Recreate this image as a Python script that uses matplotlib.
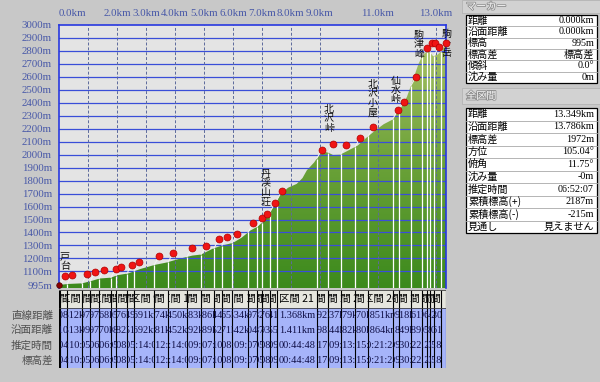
import matplotlib
matplotlib.use('Agg')
import matplotlib.pyplot as plt
import matplotlib.patheffects as pe
import numpy as np
from matplotlib.colors import LinearSegmentedColormap
from matplotlib.patches import Rectangle
from matplotlib.transforms import offset_copy, Bbox, TransformedBbox

plt.rcParams['font.family'] = ['Liberation Serif', 'Noto Sans CJK JP', 'DejaVu Sans']
CJK = ['Noto Sans CJK JP', 'DejaVu Sans']

# elevation profile (distance km, elevation m)
prof_km = [0.0, 0.3, 0.8, 1.1, 1.4, 1.8, 2.0, 2.4, 2.8, 3.3, 3.7, 4.2, 4.6, 4.9, 5.3, 5.6,
           6.0, 6.3, 6.6, 6.85, 7.0, 7.2, 7.4, 7.6, 7.9, 8.2, 8.4, 8.55, 8.8, 9.0, 9.25,
           9.45, 9.7, 10.0, 10.3, 10.6, 10.9, 11.2, 11.5, 11.75, 12.0, 12.2, 12.4, 12.55,
           12.75, 12.9, 13.05, 13.2, 13.3, 13.349]
prof_el = [995, 1003, 1008, 1025, 1045, 1052, 1070, 1085, 1118, 1150, 1168, 1200, 1222, 1230,
           1275, 1298, 1320, 1360, 1415, 1445, 1475, 1530, 1600, 1685, 1745, 1775, 1820, 1880,
           1940, 2005, 2020, 1998, 2000, 2035, 2070, 2130, 2185, 2235, 2270, 2350, 2445, 2570,
           2700, 2770, 2805, 2760, 2770, 2800, 2840, 2967]

# waypoints (km)
wp_km = [0.03, 0.28, 0.79, 1.07, 1.38, 1.79, 1.97, 2.34, 2.59, 3.28, 3.76, 4.41, 4.90, 5.34,
         5.62, 5.97, 6.52, 6.83, 7.00, 7.28, 7.52, 8.89, 9.28, 9.72, 10.21, 10.66, 11.51,
         11.72, 12.14, 12.52, 12.69, 12.79, 12.93, 13.17]

place_idx = [0, 18, 22, 25, 26, 29, 33]
place_names = ['戸台', '丹渓山荘', '北沢峠', '北沢小屋', '仙水峠', '駒津峰', '駒ヶ岳']

# segment table
seg_direct = [0.208, 0.512, 0.297, 0.297, 0.368, 0.205, 0.376, 0.249, 0.691, 0.574, 0.450,
              0.483, 0.386, 0.344, 0.365, 0.534, 0.297, 0.182, 0.276, 0.241, 1.368, 0.392,
              0.437, 0.479, 0.470, 0.851, 0.209, 0.418, 0.361, 0.196, 0.104, 0.142, 0.330]
seg_surface = [0.210, 0.513, 0.299, 0.297, 0.370, 0.208, 0.382, 0.251, 0.692, 0.581, 0.452,
               0.492, 0.389, 0.352, 0.371, 0.542, 0.304, 0.187, 0.293, 0.255, 1.411, 0.398,
               0.444, 0.482, 0.480, 0.864, 0.218, 0.449, 0.389, 0.205, 0.108, 0.150, 0.361]
seg_time = ['00:04:08', '00:10:50', '00:05:04', '00:06:13', '00:06:36', '00:05:14', '00:08:12',
            '00:05:14', '00:14:08', '00:12:14', '00:14:08', '00:09:05', '00:07:10', '00:10:22',
            '00:08:38', '00:09:17', '00:07:02', '00:05:51', '00:08:30', '00:09:23', '00:44:48',
            '00:17:07', '00:09:13', '00:13:22', '00:15:39', '00:21:24', '00:09:27', '00:30:50',
            '00:22:12', '00:12:28', '00:03:05', '00:05:41', '00:18:22']
row_labels = ['直線距離', '沿面距離', '推定時間', '標高差']

km_labels = [0, 2, 3, 4, 5, 6, 7, 8, 9, 11, 13]
km_grid = [1, 2, 3, 4, 5, 6, 7, 8, 9, 11, 13]
y_ticks = [995] + list(range(1100, 3001, 100))

marker_labels = ['距離', '沿面距離', '標高', '標高差', '傾斜', '沈み量']
marker_values = ['0.000km', '0.000km', '995m', '標高差', '0.0°', '0m']
total_labels = ['距離', '沿面距離', '標高差', '方位', '俯角', '沈み量', '推定時間',
                '累積標高(+)', '累積標高(-)', '見通し']
total_values = ['13.349km', '13.786km', '1972m', '105.04°', '11.75°', '-0m', '06:52:07',
                '2187m', '-215m', '見えません']

x_end = 13.349
y_bot, y_top = 972, 3000
axis_blue = '#4858a8'

fig = plt.figure(figsize=(6, 3.82), dpi=100, facecolor='#c8c8c8')

# overlay in pixel coordinates for panels and row labels
ax_o = fig.add_axes([0, 0, 1, 1], zorder=-1)
ax_o.set_xlim(0, 600)
ax_o.set_ylim(382, 0)
ax_o.axis('off')

# ---- main profile ----
ax = fig.add_axes([59 / 600, 1 - 288 / 382, 387 / 600, 263 / 382])
ax.set_facecolor('#e4e4e4')

poly = ax.fill_between(prof_km, y_bot, prof_el, color='none', lw=0)
grad = np.linspace(0, 1, 256).reshape(-1, 1)
cmap = LinearSegmentedColormap.from_list('terrain_g', ['#3c8a1c', '#6ea33a', '#b2c66c'])
im = ax.imshow(grad, extent=[0, x_end, y_bot, y_top], origin='lower', cmap=cmap,
               aspect='auto', zorder=1)
im.set_clip_path(poly.get_paths()[0], transform=ax.transData)

for v in y_ticks[1:-1]:
    ax.axhline(v, color='#3a4ed8', lw=0.9, zorder=2)
for k in km_grid:
    ax.axvline(k, color='#5c6a9c', lw=0.7, ls=(0, (3, 2)), zorder=2)

wp_el = np.interp(wp_km, prof_km, prof_el)
ax.vlines(wp_km, y_bot, wp_el, color='white', lw=0.9, zorder=3)

for k, e in zip(wp_km, wp_el):
    ax.annotate('', xy=(k, e), xytext=(5, 9), textcoords='offset pixels',
                arrowprops=dict(arrowstyle='-', color='#f4f4f4', lw=0.7,
                                shrinkA=0, shrinkB=0), zorder=5)
head_tr = offset_copy(ax.transData, fig=fig, x=5, y=9, units='dots')
ax.plot(wp_km, wp_el, 'o', transform=head_tr, ms=5.0, mfc='#f01414', mec='#b00000',
        mew=0.5, zorder=6, clip_on=False)

# current marker at the start
ax.plot(prof_km[0], prof_el[0], 'o', ms=4, mfc='#8a0000', mec='#500000', mew=0.5,
        zorder=7, clip_on=False)

label_offsets = [(5, 14), (4, 16), (1, 20), (5, 19), (3, 15), (-3, -2), (6, -6)]
for idx, name, (dx, dy) in zip(place_idx, place_names, label_offsets):
    ax.annotate('\n'.join(name), xy=(wp_km[idx], wp_el[idx]), xytext=(dx, dy),
                textcoords='offset pixels', ha='center', va='bottom', fontsize=7.2,
                linespacing=0.92, family=CJK, color='#101010', zorder=5,
                annotation_clip=False)

ax.set_xlim(0, x_end)
ax.set_ylim(y_bot, y_top)
ax.xaxis.tick_top()
ax.set_xticks(km_labels)
ax.set_xticklabels([f'{k:.1f}km' for k in km_labels])
ax.get_xticklabels()[0].set_horizontalalignment('left')
ax.tick_params(axis='x', length=0, pad=5, labelsize=7.8, labelcolor=axis_blue)
ax.set_yticks(y_ticks)
ax.set_yticklabels([f'{v}m' for v in y_ticks])
ax.tick_params(axis='y', length=0, pad=5, labelsize=7.8, labelcolor=axis_blue)
ax.spines['bottom'].set_visible(False)
for s in ['left', 'top', 'right']:
    ax.spines[s].set_color('#2838e0')
    ax.spines[s].set_linewidth(1.2)

# ---- segment table (y in pixels measured up from 368) ----
ax_t = fig.add_axes([59 / 600, 1 - 368 / 382, 387 / 600, 80 / 382])
ax_t.set_xlim(0, x_end)
ax_t.set_ylim(0, 80)
ax_t.axis('off')
hdr_lo, hdr_hi = 60.5, 78.5
dat_lo, dat_hi = 0.5, 60.5
ax_t.add_patch(Rectangle((0, hdr_lo), x_end, hdr_hi - hdr_lo, fc='#e6e6de', ec='none'))
ax_t.add_patch(Rectangle((0, dat_lo), x_end, dat_hi - dat_lo, fc='#a6b4fa', ec='none'))
ax_t.vlines([0] + wp_km + [x_end], dat_lo, hdr_hi, color='black', lw=0.8)
ax_t.hlines([dat_lo, dat_hi, hdr_hi], 0, x_end, color='#404040', lw=0.6)

row_y = [52.5, 37.5, 22.5, 7.5]
for i in range(len(wp_km) - 1):
    left, right = wp_km[i], wp_km[i + 1]
    c = (left + right) / 2
    cbox = TransformedBbox(Bbox.from_extents(left, dat_lo, right, hdr_hi), ax_t.transData)
    texts = [ax_t.text(c, (hdr_lo + hdr_hi) / 2, f'区間 {i + 1}', ha='center', va='center',
                       fontsize=7.5, family=CJK, color='black')]
    vals = [f'{seg_direct[i]:.3f}km', f'{seg_surface[i]:.3f}km', seg_time[i], seg_time[i]]
    for y, v in zip(row_y, vals):
        texts.append(ax_t.text(c, y, v, ha='center', va='center', fontsize=7.4,
                               color='#101048'))
    for t in texts:
        t.set_clip_path(None)
        t.set_clip_box(cbox)
        t.set_clip_on(True)

for y, lab in zip(row_y, row_labels):
    ax_o.text(53, 368 - y, lab, ha='right', va='center', fontsize=7.6, family=CJK,
              color='#505050')

# ---- right panel ----
def header(y0, h, title):
    ax_o.add_patch(Rectangle((462, y0), 138, h, fc='#d2d2d2', ec='#b0b0b0', lw=0.5))
    ax_o.text(466, y0 + h / 2, title, ha='left', va='center', fontsize=7.3, family=CJK,
              color='#fafafa',
              path_effects=[pe.withStroke(linewidth=1.2, foreground='#8c8c8c')])


def info_table(y0, rh, labels, values):
    n = len(labels)
    ax_o.add_patch(Rectangle((465.5, y0), 131, rh * n, fc='white', ec='black', lw=0.9))
    for j in range(1, n):
        ax_o.plot([465.5, 596.5], [y0 + rh * j] * 2, color='#a8a8a8', lw=0.6)
    for j, (lab, val) in enumerate(zip(labels, values)):
        yc = y0 + rh * (j + 0.5)
        ax_o.text(468, yc, lab, ha='left', va='center', fontsize=7.3, family=CJK, color='black')
        ax_o.text(594, yc, val, ha='right', va='center', fontsize=7.3, color='black')


header(0, 13, 'マーカー')
info_table(15, 11.3, marker_labels, marker_values)
header(88, 16, '全区間')
info_table(108, 12.5, total_labels, total_values)

fig.savefig('out.png', dpi=100, facecolor=fig.get_facecolor())
